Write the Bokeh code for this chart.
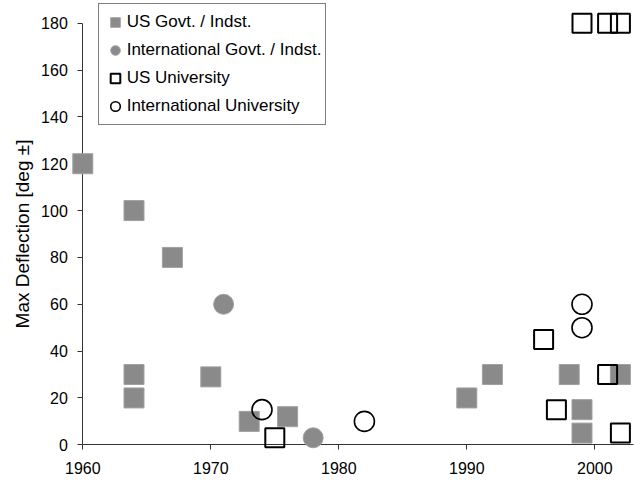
from bokeh.plotting import figure
from bokeh.models import Range1d, FixedTicker, Legend, LegendItem
from bokeh.embed import file_html
from bokeh.resources import INLINE

# ---- data ----
us_gov_year = [1960, 1964, 1967, 1964, 1964, 1970, 1973, 1976, 1990, 1992, 1998, 1999, 1999, 2002]
us_gov_defl = [120, 100, 80, 30, 20, 29, 10, 12, 20, 30, 30, 15, 5, 30]

intl_gov_year = [1971, 1978]
intl_gov_defl = [60, 3]

us_univ_year = [1975, 1996, 1997, 2001, 2002, 1999, 2001, 2002]
us_univ_defl = [3, 45, 15, 30, 5, 180, 180, 180]

intl_univ_year = [1974, 1982, 1999, 1999]
intl_univ_defl = [15, 10, 60, 50]

x_ticks = [1960, 1970, 1980, 1990, 2000]
y_ticks = [0, 20, 40, 60, 80, 100, 120, 140, 160, 180]

series_labels = ["US Govt. / Indst.", "International Govt. / Indst.",
                 "US University", "International University"]

FONT = "Liberation Sans"
GRAY = "#8a8a8a"
GRAY_EDGE = "#a0a0a0"

p = figure(width=644, height=482, output_backend="svg", toolbar_location=None,
           title=None, min_border=0,
           x_range=Range1d(1953.570, 2003.883), y_range=Range1d(-16.096, 189.692))
p.outline_line_color = None
p.grid.visible = False
p.background_fill_color = "white"
p.border_fill_color = "white"

# axes
for ax in (p.xaxis[0], p.yaxis[0]):
    ax.axis_line_color = "#333333"
    ax.axis_line_width = 1
    ax.major_tick_line_color = "#333333"
    ax.major_tick_in = 0
    ax.major_tick_out = 5
    ax.minor_tick_in = 0
    ax.minor_tick_out = 0
    ax.major_label_text_font = FONT
    ax.major_label_text_font_size = "16px"
    ax.major_label_text_color = "black"

xa = p.xaxis[0]
xa.fixed_location = 0
xa.bounds = (1960, 2003)
xa.ticker = FixedTicker(ticks=x_ticks)
xa.major_label_standoff = 12

ya = p.yaxis[0]
ya.fixed_location = 1960
ya.bounds = (0, 180)
ya.ticker = FixedTicker(ticks=y_ticks)
ya.major_label_standoff = 10
ya.axis_label = "Max Deflection [deg ±]"
ya.axis_label_text_font = FONT
ya.axis_label_text_font_size = "19px"
ya.axis_label_text_font_style = "normal"
ya.axis_label_text_color = "black"
ya.axis_label_standoff = 5

# glyphs
r1 = p.scatter(us_gov_year, us_gov_defl, marker="square", size=20,
               fill_color=GRAY, line_color=GRAY_EDGE, line_width=1, level="overlay")
r2 = p.scatter(intl_gov_year, intl_gov_defl, marker="circle", size=20,
               fill_color=GRAY, line_color=GRAY_EDGE, line_width=1, level="overlay")
r3 = p.scatter(us_univ_year, us_univ_defl, marker="square", size=19,
               fill_color=None, line_color="black", line_width=2, level="overlay")
r4 = p.scatter(intl_univ_year, intl_univ_defl, marker="circle", size=20,
               fill_color=None, line_color="black", line_width=1.6, level="overlay")

legend = Legend(items=[LegendItem(label=series_labels[0], renderers=[r1]),
                       LegendItem(label=series_labels[1], renderers=[r2]),
                       LegendItem(label=series_labels[2], renderers=[r3]),
                       LegendItem(label=series_labels[3], renderers=[r4])],
                location=(97.7, 357), margin=0, padding=4, spacing=0,
                glyph_width=24, glyph_height=28, label_standoff=0,
                label_text_font=FONT, label_text_font_size="17px",
                label_text_color="black",
                border_line_color="black", border_line_width=1,
                background_fill_color="white", background_fill_alpha=1.0)
p.add_layout(legend)

open("out.html", "w").write(file_html(p, INLINE))
